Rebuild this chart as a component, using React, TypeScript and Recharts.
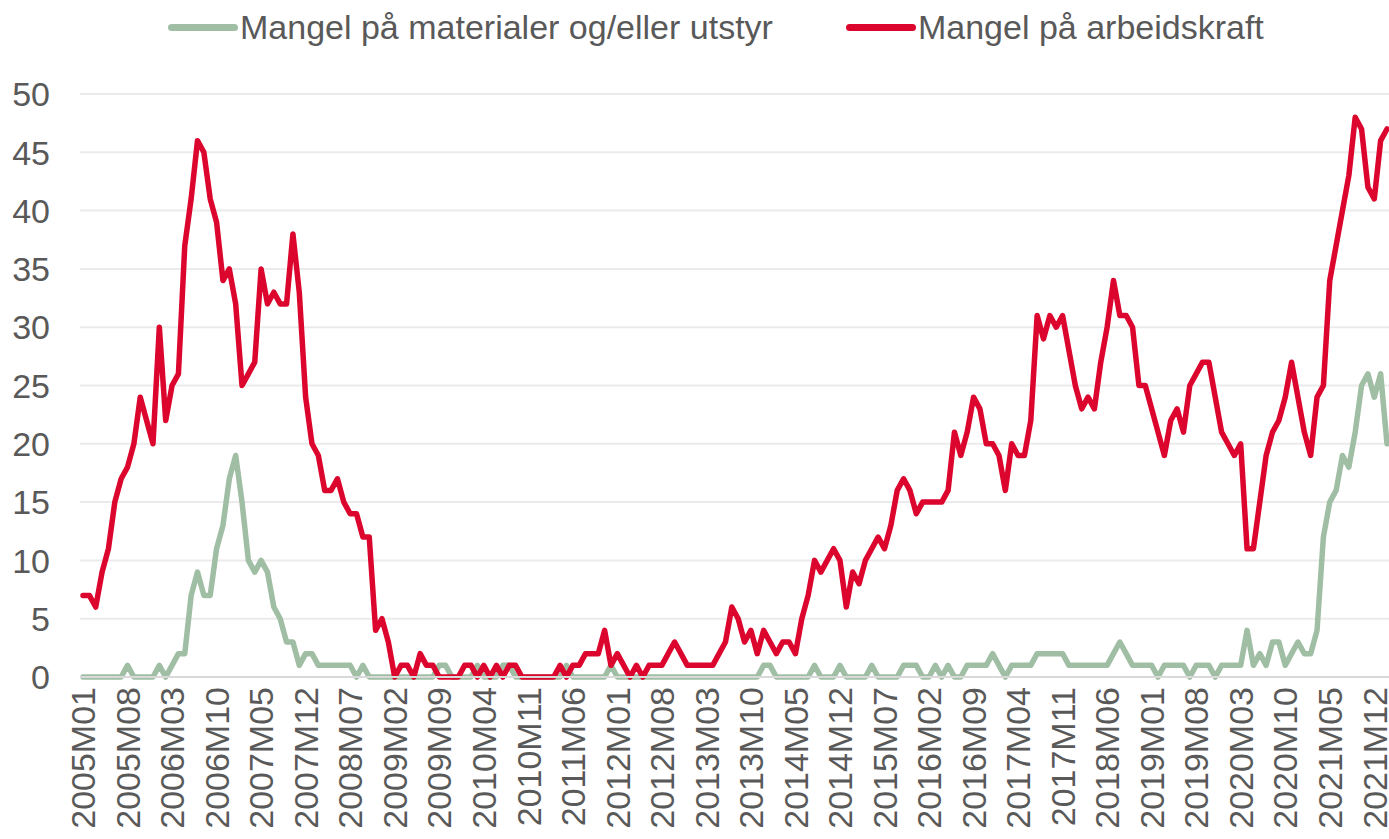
import React from 'react';
import { LineChart, Line, XAxis, YAxis, CartesianGrid, Legend } from 'recharts';

// Monthly categories 2005M01 .. 2022M02
const START_YEAR = 2005;
const MONTH_COUNT = 206;
const months: string[] = [];
for (let k = 0; k < MONTH_COUNT; k++) {
  const y = START_YEAR + Math.floor(k / 12);
  const m = (k % 12) + 1;
  months.push(`${y}M${m < 10 ? '0' + m : m}`);
}

// Mangel på materialer og/eller utstyr
const materialer: number[] = [
  0, 0, 0, 0, 0, 0, 0, 1, 0, 0,
  0, 0, 1, 0, 1, 2, 2, 7, 9, 7,
  7, 11, 13, 17, 19, 15, 10, 9, 10, 9,
  6, 5, 3, 3, 1, 2, 2, 1, 1, 1,
  1, 1, 1, 0, 1, 0, 0, 0, 0, 0,
  0, 0, 0, 0, 0, 0, 1, 1, 0, 0,
  0, 0, 1, 0, 0, 0, 1, 1, 0, 0,
  0, 0, 0, 0, 0, 0, 1, 0, 0, 0,
  0, 0, 0, 1, 0, 0, 0, 0, 0, 0,
  0, 0, 0, 0, 0, 0, 0, 0, 0, 0,
  0, 0, 0, 0, 0, 0, 0, 1, 1, 0,
  0, 0, 0, 0, 0, 1, 0, 0, 0, 1,
  0, 0, 0, 0, 1, 0, 0, 0, 0, 1,
  1, 1, 0, 0, 1, 0, 1, 0, 0, 1,
  1, 1, 1, 2, 1, 0, 1, 1, 1, 1,
  2, 2, 2, 2, 2, 1, 1, 1, 1, 1,
  1, 1, 2, 3, 2, 1, 1, 1, 1, 0,
  1, 1, 1, 1, 0, 1, 1, 1, 0, 1,
  1, 1, 1, 4, 1, 2, 1, 3, 3, 1,
  2, 3, 2, 2, 4, 12, 15, 16, 19, 18,
  21, 25, 26, 24, 26, 20,
];

// Mangel på arbeidskraft
const arbeidskraft: number[] = [
  7, 7, 6, 9, 11, 15, 17, 18, 20, 24,
  22, 20, 30, 22, 25, 26, 37, 41, 46, 45,
  41, 39, 34, 35, 32, 25, 26, 27, 35, 32,
  33, 32, 32, 38, 33, 24, 20, 19, 16, 16,
  17, 15, 14, 14, 12, 12, 4, 5, 3, 0,
  1, 1, 0, 2, 1, 1, 0, 0, 0, 0,
  1, 1, 0, 1, 0, 1, 0, 1, 1, 0,
  0, 0, 0, 0, 0, 1, 0, 1, 1, 2,
  2, 2, 4, 1, 2, 1, 0, 1, 0, 1,
  1, 1, 2, 3, 2, 1, 1, 1, 1, 1,
  2, 3, 6, 5, 3, 4, 2, 4, 3, 2,
  3, 3, 2, 5, 7, 10, 9, 10, 11, 10,
  6, 9, 8, 10, 11, 12, 11, 13, 16, 17,
  16, 14, 15, 15, 15, 15, 16, 21, 19, 21,
  24, 23, 20, 20, 19, 16, 20, 19, 19, 22,
  31, 29, 31, 30, 31, 28, 25, 23, 24, 23,
  27, 30, 34, 31, 31, 30, 25, 25, 23, 21,
  19, 22, 23, 21, 25, 26, 27, 27, 24, 21,
  20, 19, 20, 11, 11, 15, 19, 21, 22, 24,
  27, 24, 21, 19, 24, 25, 34, 37, 40, 43,
  48, 47, 42, 41, 46, 47,
];

const yTicks: number[] = [0, 5, 10, 15, 20, 25, 30, 35, 40, 45, 50];

const SERIES_NAMES = ['Mangel på materialer og/eller utstyr', 'Mangel på arbeidskraft'];

const data = months.map((m, i) => ({
  month: m,
  materialer: materialer[i],
  arbeidskraft: arbeidskraft[i],
}));

const FONT = '"Liberation Sans", Arial, Helvetica, sans-serif';
const TEXT = '#595959';
const GREEN = '#9fbea4';
const RED = '#dc052d';

const XTick = (props: any) => {
  const { x, y, payload } = props;
  return (
    <g transform={`translate(${x},${y})`}>
      <text
        transform="rotate(-90)"
        x={0}
        y={0}
        dy="0.36em"
        textAnchor="end"
        fill={TEXT}
        fontSize={34}
        fontFamily={FONT}
      >
        {payload.value}
      </text>
    </g>
  );
};

const YTick = (props: any) => {
  const { x, y, payload } = props;
  return (
    <text
      x={x}
      y={y}
      dy="0.36em"
      textAnchor="end"
      fill={TEXT}
      fontSize={34}
      fontFamily={FONT}
    >
      {payload.value}
    </text>
  );
};

const renderLegend = (props: any) => {
  const payload = [...(props.payload || [])].sort(
    (a: any, b: any) => SERIES_NAMES.indexOf(a.value) - SERIES_NAMES.indexOf(b.value)
  );
  return (
    <div
      style={{
        display: 'flex',
        alignItems: 'center',
        paddingLeft: 168,
        height: 54,
        fontFamily: FONT,
      }}
    >
      {payload.map((e: any, i: number) => (
        <div key={i} style={{ display: 'flex', alignItems: 'center', marginRight: 73 }}>
          <span
            style={{
              display: 'inline-block',
              width: 70,
              height: 7,
              borderRadius: 4,
              background: e.color,
              marginRight: 2,
            }}
          />
          <span style={{ fontSize: 34, color: TEXT, lineHeight: '40px', whiteSpace: 'nowrap' }}>
            {e.value}
          </span>
        </div>
      ))}
    </div>
  );
};

export default function App() {
  return (
    <div
      style={{
        position: 'absolute',
        left: 0,
        top: 0,
        width: 1389,
        height: 839,
        overflow: 'hidden',
        background: '#ffffff',
      }}
    >
      <LineChart
        width={1391}
        height={839}
        data={data}
        margin={{ top: 94, right: 1, bottom: 0, left: 0 }}
      >
        <CartesianGrid vertical={false} stroke="#ebebeb" strokeWidth={2} />
        <XAxis
          dataKey="month"
          interval={6}
          height={162}
          padding={{ left: 3, right: 3 }}
          axisLine={{ stroke: '#d9d9d9', strokeWidth: 2 }}
          tickLine={false}
          tickSize={0}
          tickMargin={10}
          tick={<XTick />}
        />
        <YAxis
          domain={[0, 50]}
          ticks={yTicks}
          width={80}
          axisLine={false}
          tickLine={false}
          tickSize={0}
          tickMargin={30}
          tick={<YTick />}
        />
        <Legend
          layout="horizontal"
          verticalAlign="middle"
          align="center"
          wrapperStyle={{ top: 0, left: 0, width: 1389, height: 54 }}
          content={renderLegend}
        />
        <Line
          type="linear"
          dataKey="materialer"
          name={SERIES_NAMES[0]}
          stroke={GREEN}
          strokeWidth={5.5}
          dot={false}
          activeDot={false}
          strokeLinejoin="round"
          strokeLinecap="round"
          isAnimationActive={false}
        />
        <Line
          type="linear"
          dataKey="arbeidskraft"
          name={SERIES_NAMES[1]}
          stroke={RED}
          strokeWidth={5.5}
          dot={false}
          activeDot={false}
          strokeLinejoin="round"
          strokeLinecap="round"
          isAnimationActive={false}
        />
      </LineChart>
    </div>
  );
}
